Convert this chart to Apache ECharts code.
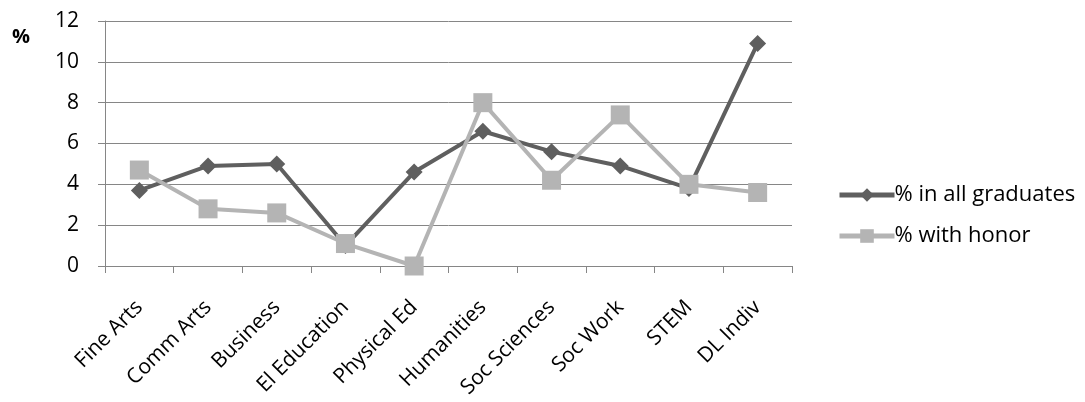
<!DOCTYPE html>
<html>
<head>
<meta charset="utf-8">
<script src="https://cdn.jsdelivr.net/npm/echarts@6/dist/echarts.min.js"></script>
<style>
  html, body { margin: 0; padding: 0; background: #fff; }
  #chart { width: 1085px; height: 402px; }
</style>
</head>
<body>
<div id="chart"></div>
<script>
// Share of graduates by program area
const categories = ['Fine Arts', 'Comm Arts', 'Business', 'El Education', 'Physical Ed',
  'Humanities', 'Soc Sciences', 'Soc Work', 'STEM', 'DL Indiv'];
const allGraduates = [3.7, 4.9, 5.0, 1.0, 4.6, 6.6, 5.6, 4.9, 3.8, 10.9];
const withHonor = [4.7, 2.8, 2.6, 1.1, 0.0, 8.0, 4.2, 7.4, 4.0, 3.6];
const seriesNames = ['% in all graduates', '% with honor'];

const FONT = '"Open Sans", Lato, sans-serif';
const AXIS_GRAY = '#868686';

const chart = echarts.init(document.getElementById('chart'), null, { renderer: 'canvas' });
chart.setOption({
  animation: false,
  backgroundColor: '#ffffff',
  textStyle: { fontFamily: FONT, color: '#000' },
  grid: { left: 105, right: 293, top: 21, bottom: 136, containLabel: false },
  graphic: [{
    type: 'text', left: 12, top: 27,
    style: { text: '%', font: 'bold 20px ' + FONT, fill: '#000' }
  }],
  legend: {
    orient: 'vertical',
    left: 832, top: 179,
    itemWidth: 55, itemHeight: 17, itemGap: 19,
    lineStyle: { width: 5 },
    textStyle: { fontSize: 22, fontFamily: FONT, color: '#000', padding: [0, 0, 0, -5] },
    data: seriesNames
  },
  xAxis: {
    type: 'category',
    data: categories,
    boundaryGap: true,
    axisLine: { lineStyle: { color: AXIS_GRAY, width: 1 } },
    axisTick: { show: true, length: 7, lineStyle: { color: AXIS_GRAY } },
    axisLabel: { rotate: 45, fontSize: 21, color: '#000', fontFamily: FONT, margin: 38, interval: 0 },
    splitLine: { show: false }
  },
  yAxis: {
    type: 'value',
    min: 0, max: 12, interval: 2,
    axisLine: { show: true, lineStyle: { color: AXIS_GRAY, width: 1 } },
    axisTick: { show: true, length: 7, lineStyle: { color: AXIS_GRAY } },
    axisLabel: { fontSize: 21, color: '#000', fontFamily: FONT, margin: 26 },
    splitLine: { show: true, lineStyle: { color: AXIS_GRAY, width: 1 } }
  },
  series: [
    {
      name: seriesNames[0], type: 'line', data: allGraduates,
      symbol: 'diamond', symbolSize: 17,
      lineStyle: { color: '#5f5f5f', width: 4 },
      itemStyle: { color: '#5f5f5f' }
    },
    {
      name: seriesNames[1], type: 'line', data: withHonor,
      symbol: 'rect', symbolSize: 19,
      lineStyle: { color: '#b4b4b4', width: 4 },
      itemStyle: { color: '#b4b4b4' }
    }
  ]
});
</script>
</body>
</html>
